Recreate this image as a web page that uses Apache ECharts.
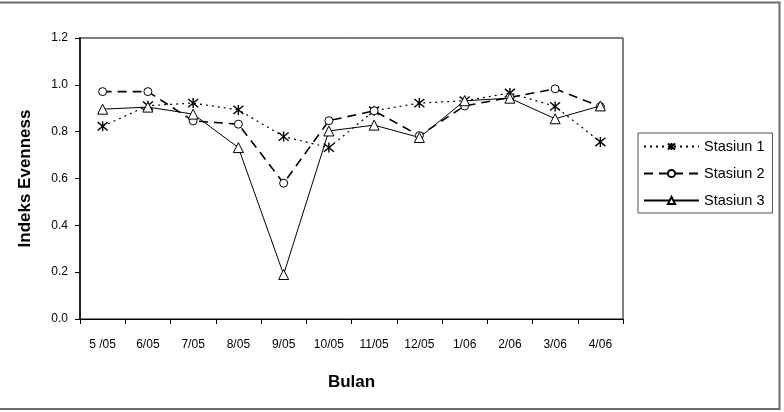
<!DOCTYPE html>
<html>
<head>
<meta charset="utf-8">
<script src="https://cdn.jsdelivr.net/npm/echarts@6/dist/echarts.min.js"></script>
<style>html,body{margin:0;padding:0;background:#fff}#c{width:784px;height:412px}</style>
</head>
<body>
<div id="c"></div>
<script>
const categories = ['5 /05','6/05','7/05','8/05','9/05','10/05','11/05','12/05','1/06','2/06','3/06','4/06'];
const stasiun1 = [0.823, 0.911, 0.922, 0.893, 0.779, 0.732, 0.889, 0.922, 0.932, 0.965, 0.908, 0.756];
const stasiun2 = [0.971, 0.971, 0.846, 0.832, 0.580, 0.847, 0.889, 0.783, 0.910, 0.946, 0.983, 0.907];
const stasiun3 = [0.896, 0.905, 0.875, 0.732, 0.190, 0.803, 0.828, 0.775, 0.932, 0.943, 0.855, 0.910];
const seriesNames = ['Stasiun 1','Stasiun 2','Stasiun 3'];

const FONT = 'Liberation Sans, Arial, sans-serif';
const star = 'path://M0,0L10,10M10,0L0,10M5,-1L5,11';
const chart = echarts.init(document.getElementById('c'), null, {renderer:'canvas'});
chart.setOption({
  animation:false,
  backgroundColor:'#fff',
  graphic:[{type:'rect', shape:{x:-5,y:2.5,width:784.5,height:406.5}, style:{fill:'none',stroke:'#6a6a6a',lineWidth:2}, silent:true}],
  grid:{left:80,right:161,top:38,bottom:93,show:true,borderColor:'#000',borderWidth:1,backgroundColor:'#fff'},
  legend:{
    orient:'vertical', left:638, top:133,
    padding:[6,8,5,5], itemGap:12, itemWidth:55, itemHeight:9,
    borderColor:'#555', borderWidth:1,
    textStyle:{fontFamily:FONT,fontSize:14.5,color:'#000'},
    data:seriesNames
  },
  xAxis:{
    type:'category', data:categories, boundaryGap:true,
    axisLine:{lineStyle:{color:'#000',width:1}},
    axisTick:{show:true,length:5,lineStyle:{color:'#000'}},
    axisLabel:{fontFamily:FONT,fontSize:12,color:'#000',margin:20,interval:0},
    name:'Bulan', nameLocation:'middle', nameGap:55,
    nameTextStyle:{fontFamily:FONT,fontSize:17,fontWeight:'bold',color:'#000'}
  },
  yAxis:{
    type:'value', min:0, max:1.2, interval:0.2,
    axisLine:{show:true,lineStyle:{color:'#222',width:2}},
    axisTick:{show:true,length:5,lineStyle:{color:'#000'}},
    splitLine:{show:false},
    axisLabel:{fontFamily:FONT,fontSize:12,color:'#000',margin:12,formatter:v=>v.toFixed(1)},
    name:'Indeks Evenness', nameLocation:'middle', nameGap:46,
    nameTextStyle:{fontFamily:FONT,fontSize:17,fontWeight:'bold',color:'#000'}
  },
  series:[
    {name:seriesNames[0], type:'line', data:stasiun1, symbol:star, symbolSize:10,
     lineStyle:{color:'#000',width:1.2,type:[2,4]},
     itemStyle:{color:'#000',borderColor:'#000',borderWidth:1.4}},
    {name:seriesNames[1], type:'line', data:stasiun2, symbol:'circle', symbolSize:8,
     lineStyle:{color:'#000',width:1.6,type:[9,6]},
     itemStyle:{color:'#fff',borderColor:'#000',borderWidth:1}},
    {name:seriesNames[2], type:'line', data:stasiun3, symbol:'triangle', symbolSize:10,
     lineStyle:{color:'#000',width:1,type:'solid'},
     itemStyle:{color:'#fff',borderColor:'#000',borderWidth:1}}
  ]
});
</script>
</body>
</html>
